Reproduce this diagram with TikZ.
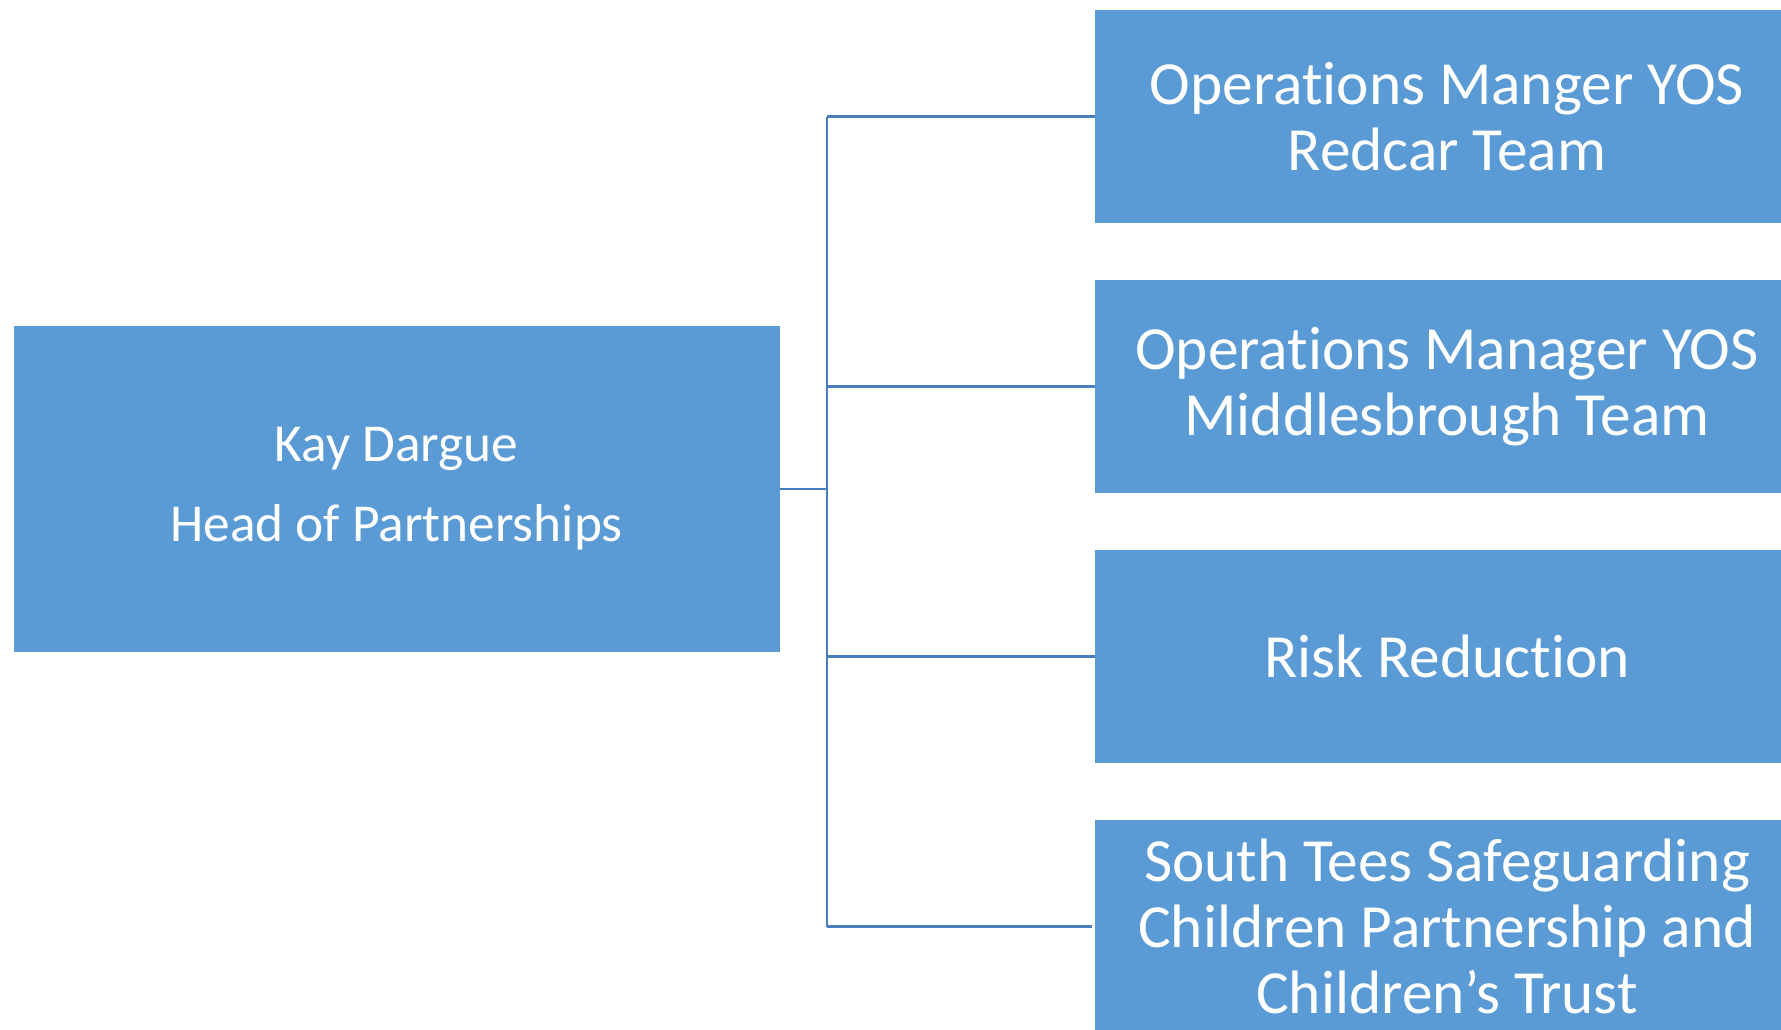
\documentclass[tikz,border=0pt]{standalone}
\usepackage{fontspec}
\setmainfont[Ligatures={NoCommon,NoContextual}, Contextuals=NoAlternate]{Carlito}
\usepackage{xcolor}
\usepackage{tikz}
\usetikzlibrary{
    positioning
}
\definecolor{boxblue}{HTML}{5B9BD5}
\definecolor{lineblue}{HTML}{4A7EBB}
\tikzset{
  basic/.style = {
      rectangle,
      fill=boxblue,
      text=white,
      align=flush center,
      inner sep=0pt
  },
  lead/.style = {
      basic,
      minimum width=574.5pt,
      minimum height=244.5pt,
      text width=560pt,
      font=\fontsize{40}{60}\selectfont
  },
  unit/.style = {
      basic,
      minimum width=528pt,
      minimum height=159.75pt,
      text width=510pt,
      font=\fontsize{46}{49.5}\selectfont
  },
  edge/.style = {
      draw=lineblue,
      line width=1.6pt
  }
}

\begin{document}
\begin{tikzpicture}[x=0.75pt, y=-0.75pt, node distance=202.5pt]
    \useasboundingbox (0,0) rectangle (1781,1029);
    % Nodes
    \node[lead] (kay) at (396.5,489) {Kay Dargue\\Head of Partnerships};
    \node[unit] (redcar) at (1447,116.5) {Operations Manger YOS\\Redcar Team};
    \node[unit, below of=redcar] (mbro) {Operations Manager YOS\\Middlesbrough Team};
    \node[unit, below of=mbro] (risk) {Risk Reduction};
    \node[unit, below of=risk] (tees) {South Tees Safeguarding\\Children Partnership and\\Children’s Trust};
    \coordinate (bus) at (827,489);
    % Edges
    \path[edge]
    (kay.east) -- (bus)
    (bus |- redcar.west) -- (bus |- tees.west);
    \path[edge, shorten >=2pt]
    (bus |- redcar.west) -- (redcar.west)
    (bus |- mbro.west) -- (mbro.west)
    (bus |- risk.west) -- (risk.west)
    (bus |- tees.west) -- (tees.west);
\end{tikzpicture}
\end{document}
